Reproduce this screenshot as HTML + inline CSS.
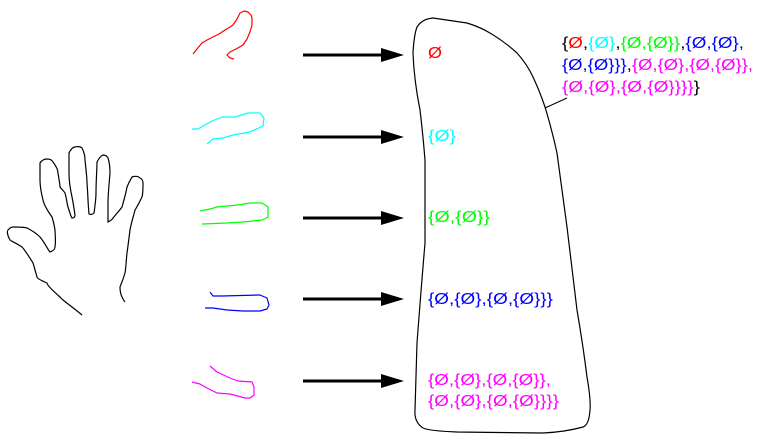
<!DOCTYPE html>
<html><head><meta charset="utf-8"><style>
html,body{margin:0;padding:0;background:#fff;}
svg{display:block;}
text{font-family:"Liberation Sans","DejaVu Sans",sans-serif;font-size:16px;}
</style></head><body>
<svg width="759" height="445" viewBox="0 0 759 445" xmlns="http://www.w3.org/2000/svg">
<!-- hand -->
<path fill="none" stroke="#000" stroke-width="1.2" d="M82,315 C70,305 62,300 60,297 C52,290 47,285 47,283 C40,280 37,278 37,277 C35,270 34,266 33,263 C28,255 25,250 22,247 C16,243 11,241 10,240 C7,235 7,231 8,230 C10,228 11,227 13,227 C20,227 24,227 27,228 C33,231 37,234 40,237 C45,243 48,250 50,252 C53,251 55,249 55,247 C56,240 55,234 55,230 C54,224 53,220 52,217 C47,210 44,205 43,200 C41,192 40,185 40,180 C40,172 40,166 40,163 C42,160 45,159 47,159 C50,159 52,160 53,162 C56,166 58,170 58,173 C59,180 60,184 60,187 C62,190 64,191 65,193 C67,200 67,204 68,207 C70,213 71,217 72,218 C74,218 75,217 75,215 C74,208 73,202 72,197 C70,188 69,180 69,173 C69,165 69,157 69,153 C71,149 73,147 75,147 C78,146 81,147 82,148 C84,152 85,156 85,160 C86,170 87,177 87,183 C88,195 88,205 89,214 C91,215 93,214 94,213 C95,206 96,199 96,193 C96,180 97,170 97,162 C99,158 101,156 103,155 C105,155 107,156 108,158 C110,164 110,169 110,173 C109,185 108,195 108,203 C108,210 108,218 108,222 C110,221 112,220 113,218 C117,213 120,210 122,207 C124,200 126,193 127,187 C129,182 131,179 132,177 C135,176 138,176 140,178 C142,179 143,181 143,183 C143,190 143,194 142,197 C139,203 137,207 135,210 C133,218 131,224 130,230 C129,238 128,246 127,253 C126,262 126,268 125,273 C123,280 121,284 120,287 C120,292 121,295 122,297 C123,299 124,301 125,302"/>
<!-- squiggles -->
<polyline fill="none" stroke="#f00" stroke-width="1.2" stroke-linejoin="round" points="193,54 197,49 202,43 207,40 213,37 219,34 225,30 230,27 233,25 237,19 240,13 244,11 248,12 251,15 252,18 252,25 250,32 247,39 243,45 236,49 230,52 227,55 230,58 234,59"/>
<polyline fill="none" stroke="#0ff" stroke-width="1.2" stroke-linejoin="round" points="192,129 198,129 203,126 212,121 222,117 235,117 248,113 260,113 264,118 263,126 250,132 233,135 223,138 213,139 207,144"/>
<polyline fill="none" stroke="#0f0" stroke-width="1.2" stroke-linejoin="round" points="200,211 210,209 217,207 238,205 250,203 262,203 268,207 268,217 262,220 243,222 227,223 202,224"/>
<polyline fill="none" stroke="#00f" stroke-width="1.2" stroke-linejoin="round" points="210,292 213,296 222,296 260,295 267,298 269,305 267,309 260,311 243,311 227,310 213,308 205,308"/>
<polyline fill="none" stroke="#f0f" stroke-width="1.2" stroke-linejoin="round" points="210,366 217,372 230,378 238,381 252,382 254,387 254,395 250,398 245,398 230,394 217,393 207,388 200,384 192,382"/>
<!-- arrows -->
<g stroke="#000" stroke-width="3">
<line x1="303" y1="55" x2="385" y2="55"/><line x1="303" y1="137" x2="385" y2="137"/><line x1="303" y1="218" x2="385" y2="218"/><line x1="303" y1="299" x2="385" y2="299"/><line x1="303" y1="381" x2="385" y2="381"/>
</g>
<g fill="#000">
<polygon points="381,48 404,55 381,62"/><polygon points="381,130 404,137 381,144"/><polygon points="381,211 404,218 381,225"/><polygon points="381,292 404,299 381,306"/><polygon points="381,374 404,381 381,388"/>
</g>
<!-- blob -->
<path fill="none" stroke="#000" stroke-width="1.2" d="M417,27 Q422,19 433,18 L467,23 Q480,27 490,33 Q505,42 517,53 Q527,64 533,77 Q540,92 545,107 Q552,130 557,153 Q562,190 567,227 Q572,270 577,310 Q583,345 587,377 Q591,400 590,410 Q589,425 583,427 Q565,432 543,433 L457,432 Q430,431 423,428 Q414,422 415,410 Q416,376 417,343 Q421,290 425,243 Q425,200 425,160 Q423,135 420,110 Q414,80 413,53 Q414,35 417,27 Z"/>
<line x1="545" y1="108" x2="567" y2="98" stroke="#000" stroke-width="1"/>
<!-- labels -->
<text x="428" y="58" fill="#f00" textLength="14" lengthAdjust="spacingAndGlyphs">Ø</text>
<text x="428" y="141" fill="#0ff" textLength="28" lengthAdjust="spacingAndGlyphs">{Ø}</text>
<text x="428" y="222" fill="#0f0" textLength="62" lengthAdjust="spacingAndGlyphs">{Ø,{Ø}}</text>
<text x="428" y="304" fill="#00f" textLength="125" lengthAdjust="spacingAndGlyphs">{Ø,{Ø},{Ø,{Ø}}}</text>
<text x="428" y="385" fill="#f0f" textLength="123" lengthAdjust="spacingAndGlyphs">{Ø,{Ø},{Ø,{Ø}},</text>
<text x="428" y="406" fill="#f0f" textLength="131" lengthAdjust="spacingAndGlyphs">{Ø,{Ø},{Ø,{Ø}}}}</text>
<text x="562" y="48" textLength="182" lengthAdjust="spacingAndGlyphs"><tspan fill="#000">{</tspan><tspan fill="#f00">Ø</tspan><tspan fill="#000">,</tspan><tspan fill="#0ff">{Ø}</tspan><tspan fill="#000">,</tspan><tspan fill="#0f0">{Ø,{Ø}}</tspan><tspan fill="#000">,</tspan><tspan fill="#00f">{Ø,{Ø},</tspan></text>
<text x="562" y="70" textLength="191" lengthAdjust="spacingAndGlyphs"><tspan fill="#00f">{Ø,{Ø}}}</tspan><tspan fill="#000">,</tspan><tspan fill="#f0f">{Ø,{Ø},{Ø,{Ø}},</tspan></text>
<text x="562" y="92" textLength="138" lengthAdjust="spacingAndGlyphs"><tspan fill="#f0f">{Ø,{Ø},{Ø,{Ø}}}}</tspan><tspan fill="#000">}</tspan></text>
</svg>
</body></html>
